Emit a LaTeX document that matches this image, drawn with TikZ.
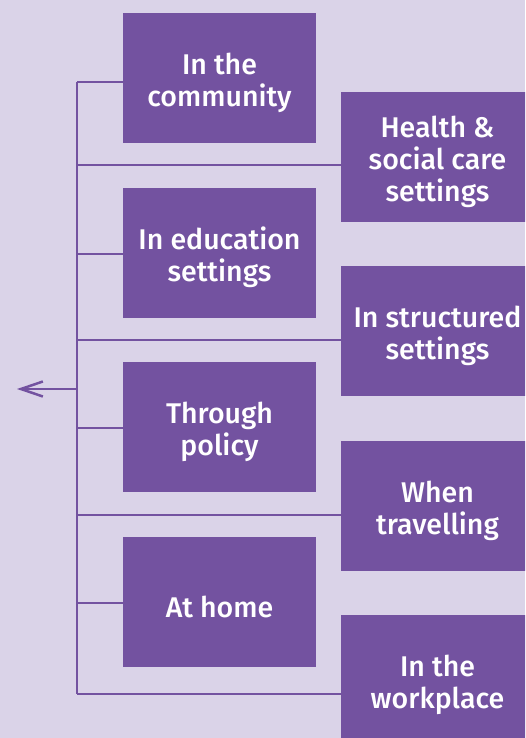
\documentclass[tikz,border=0pt]{standalone}
\usepackage{fontspec}
\setmainfont{Fira Sans}[UprightFont=* Medium]
\usetikzlibrary{arrows.meta}
\definecolor{bgpurple}{HTML}{DAD3E8}
\definecolor{boxpurple}{HTML}{7352A0}
\tikzset{
  place/.style={fill=boxpurple, minimum width=193pt, minimum height=130pt, inner sep=0pt,
    label={[caption]center:#1}},
  caption/.style={text=white, align=center, inner sep=0pt, yshift=-4.5pt,
    font=\fontsize{28.5}{32}\selectfont},
  link/.style={draw=boxpurple, line width=2.5pt},
}
\begin{document}
\begin{tikzpicture}[x=1pt, y=-1pt]
  \fill[bgpurple] (0,0) rectangle (525,738);
  \clip (0,0) rectangle (525,738);
  \useasboundingbox (0,0) rectangle (525,738);

  % left column of settings
  \node[place={In the\\community}]     (community) at (219.5,78)  {};
  \node[place={In education\\settings}] (education) at (219.5,253) {};
  \node[place={Through\\policy}]       (policy)    at (219.5,427) {};
  \node[place={At home}]               (home)      at (219.5,602) {};

  % right column of settings
  \node[place={Health \&\\social care\\settings}] (health)     at (437.5,157) {};
  \node[place={In structured\\settings}]          (structured) at (437.5,331) {};
  \node[place={When\\travelling}]                 (travel)     at (437.5,506) {};
  \node[place={In the\\workplace}]                (workplace)  at (437.5,680) {};

  % spine and outgoing arrow
  \coordinate (spinetop) at (77,82);
  \coordinate (spinebot) at (77,694);
  \coordinate (spinemid) at (77,389);
  \coordinate (outlet)   at (17,389);
  \draw[link] (spinetop) -- (spinebot);
  \draw[link, -{Straight Barb[length=22pt, width=15pt, line width=2.5pt]}] (spinemid) -- (outlet);

  % branches from the spine to each box
  \draw[link] ([yshift=-4pt]community.west) -- ([yshift=-4pt]community.west -| spinetop);
  \draw[link] ([yshift=-1pt]education.west) -- ([yshift=-1pt]education.west -| spinetop);
  \draw[link] ([yshift=-1pt]policy.west)    -- ([yshift=-1pt]policy.west -| spinetop);
  \draw[link] ([yshift=-1pt]home.west)      -- ([yshift=-1pt]home.west -| spinetop);
  \draw[link] ([yshift=-8pt]health.west)     -- ([yshift=-8pt]health.west -| spinetop);
  \draw[link] ([yshift=-9pt]structured.west) -- ([yshift=-9pt]structured.west -| spinetop);
  \draw[link] ([yshift=-9pt]travel.west)     -- ([yshift=-9pt]travel.west -| spinetop);
  \draw[link] ([yshift=-14pt]workplace.west) -- ([yshift=-14pt]workplace.west -| spinetop);
\end{tikzpicture}
\end{document}
